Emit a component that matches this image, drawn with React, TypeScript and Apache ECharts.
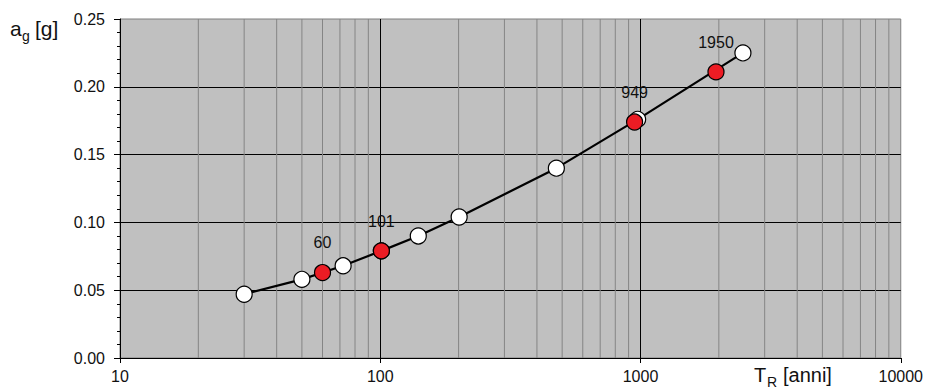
import React, { useEffect, useRef } from "react";
import * as echarts from "echarts";

// Return periods (years) and peak ground acceleration on the reference curve
const curvePeriods = [30, 50, 72, 101, 140, 201, 475, 975, 2475];
const curveAg = [0.047, 0.058, 0.068, 0.079, 0.09, 0.104, 0.14, 0.176, 0.225];

// Highlighted return periods with their accelerations
const markedPeriods = [60, 101, 949, 1950];
const markedAg = [0.063, 0.079, 0.174, 0.211];

// Intermediate (2..9 per decade) gridline values on the log axis
const minorGridValues = [
  20, 30, 40, 50, 60, 70, 80, 90,
  200, 300, 400, 500, 600, 700, 800, 900,
  2000, 3000, 4000, 5000, 6000, 7000, 8000, 9000,
];

const FONT = "'Liberation Sans', Arial, sans-serif";

export default function App() {
  const ref = useRef<HTMLDivElement>(null);

  useEffect(() => {
    if (!ref.current) return;
    const chart = echarts.init(ref.current, undefined, { renderer: "svg" });

    const option = {
      animation: false,
      backgroundColor: "#ffffff",
      grid: {
        left: 120,
        right: 25,
        top: 19,
        bottom: 34,
        show: true,
        backgroundColor: "#c0c0c0",
        borderColor: "#7f7f7f",
        borderWidth: 1,
      },
      xAxis: {
        type: "log",
        logBase: 10,
        min: 10,
        max: 10000,
        axisLine: { show: true, lineStyle: { color: "#000", width: 1 } },
        axisTick: { show: true, length: 5, inside: false, lineStyle: { color: "#000" } },
        axisLabel: {
          color: "#111",
          fontFamily: FONT,
          fontSize: 16,
          margin: 10,
          formatter: (v: number) => String(Math.round(v)),
        },
        splitLine: {
          show: true,
          showMinLine: false,
          showMaxLine: false,
          lineStyle: { color: "#000", width: 1 },
        },
      },
      yAxis: {
        type: "value",
        min: 0,
        max: 0.25,
        interval: 0.05,
        axisLine: { show: true, lineStyle: { color: "#000", width: 1 } },
        axisTick: { show: true, length: 6, inside: false, lineStyle: { color: "#000" } },
        minorTick: { show: true, splitNumber: 5, length: 3, lineStyle: { color: "#000" } },
        axisLabel: {
          color: "#111",
          fontFamily: FONT,
          fontSize: 16,
          margin: 15,
          formatter: (v: number) => v.toFixed(2),
        },
        splitLine: {
          show: true,
          showMinLine: false,
          showMaxLine: false,
          lineStyle: { color: "#000", width: 1 },
        },
      },
      graphic: [
        { type: "text", x: 10, y: 28, style: { text: "a", font: `21px ${FONT}`, fill: "#111", align: "left", verticalAlign: "middle" } },
        { type: "text", x: 22, y: 36, style: { text: "g", font: `14px ${FONT}`, fill: "#111", align: "left", verticalAlign: "middle" } },
        { type: "text", x: 35, y: 28, style: { text: "[g]", font: `21px ${FONT}`, fill: "#111", align: "left", verticalAlign: "middle" } },
        { type: "text", x: 754, y: 375, style: { text: "T", font: `20px ${FONT}`, fill: "#111", align: "left", verticalAlign: "middle" } },
        { type: "text", x: 767, y: 382, style: { text: "R", font: `14px ${FONT}`, fill: "#111", align: "left", verticalAlign: "middle" } },
        { type: "text", x: 783, y: 375, style: { text: "[anni]", font: `20px ${FONT}`, fill: "#111", align: "left", verticalAlign: "middle" } },
      ],
      series: [
        {
          type: "custom",
          silent: true,
          z: 1,
          data: minorGridValues.map((v) => [v, 0]),
          encode: { x: 0, y: 1 },
          renderItem: (_params: any, api: any) => {
            const x = api.value(0);
            const p1 = api.coord([x, 0]);
            const p2 = api.coord([x, 0.25]);
            return {
              type: "line",
              shape: { x1: p1[0], y1: p1[1], x2: p2[0], y2: p2[1] },
              style: { stroke: "#858585", lineWidth: 1 },
            };
          },
        },
        {
          type: "line",
          z: 3,
          data: curvePeriods.map((p, i) => [p, curveAg[i]]),
          symbol: "circle",
          symbolSize: 16,
          lineStyle: { color: "#000", width: 2.2 },
          itemStyle: { color: "#ffffff", borderColor: "#000", borderWidth: 1.2 },
        },
        {
          type: "scatter",
          z: 4,
          data: markedPeriods.map((p, i) => [p, markedAg[i]]),
          symbol: "circle",
          symbolSize: 16,
          itemStyle: { color: "#ec1c24", borderColor: "#000", borderWidth: 1.2, opacity: 1 },
          label: {
            show: true,
            position: "top",
            distance: 13,
            color: "#111",
            fontFamily: FONT,
            fontSize: 16,
            formatter: (p: any) => String(p.value[0]),
          },
        },
      ],
    };

    chart.setOption(option as any);
    return () => chart.dispose();
  }, []);

  return (
    <div
      ref={ref}
      style={{ position: "fixed", left: 0, top: 0, width: 926, height: 392 }}
    />
  );
}
